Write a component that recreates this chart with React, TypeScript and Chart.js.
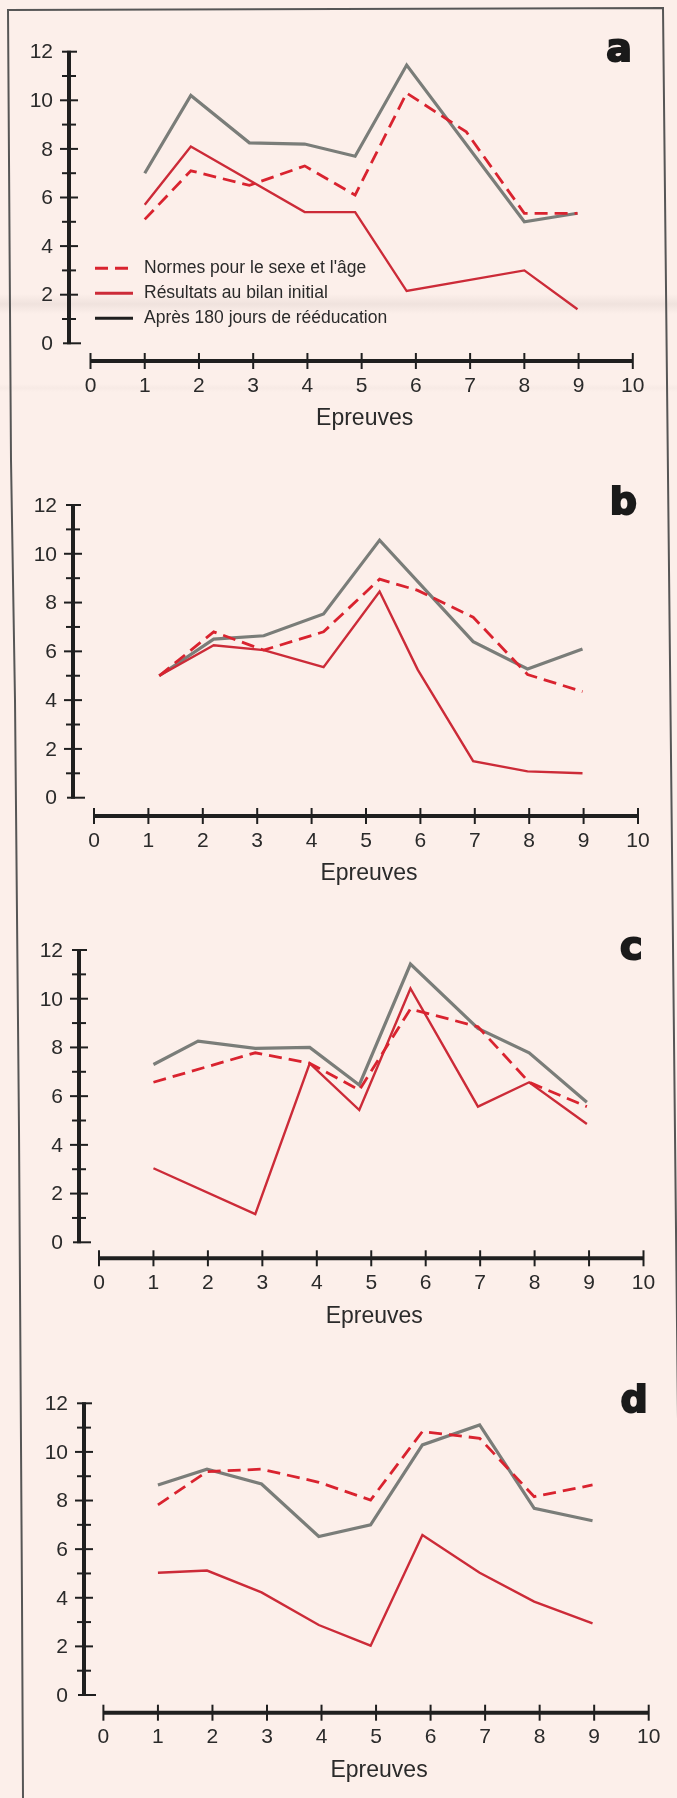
import React, { useEffect, useRef } from "react";
import { Chart, registerables } from "chart.js";

Chart.register(...registerables);

// ---------- data ----------
const xTickLabels = [0, 1, 2, 3, 4, 5, 6, 7, 8, 9, 10];
const yTickLabels = [0, 2, 4, 6, 8, 10, 12];
const legendLabels = [
  "Normes pour le sexe et l'âge",
  "Résultats au bilan initial",
  "Après 180 jours de rééducation",
];
const axisTitle = "Epreuves";
const panelLetters = ["a", "b", "c", "d"];

const aX = [1, 1.85, 2.93, 3.95, 4.88, 5.83, 6.93, 8.0, 8.98];
const aNormes = [5.1, 7.1, 6.5, 7.3, 6.1, 10.3, 8.7, 5.35, 5.35];
const aInitial = [5.7, 8.1, null, 5.4, 5.4, 2.15, null, 3.0, 1.4];
const aApres = [7.0, 10.2, 8.25, 8.2, 7.7, 11.45, null, 5.0, 5.35];

const bX = [1.2, 2.2, 3.12, 4.22, 5.25, 5.95, 6.97, 7.97, 8.98];
const bNormes = [5.0, 6.8, 6.05, 6.8, 8.96, 8.5, 7.4, 5.05, 4.35];
const bInitial = [5.0, 6.25, 6.05, 5.35, 8.45, 5.25, 1.5, 1.08, 1.0];
const bApres = [5.0, 6.5, 6.64, 7.53, 10.56, null, 6.4, 5.28, 6.1];

const cX = [1, 1.82, 2.87, 3.87, 4.78, 5.72, 6.96, 7.9, 8.96];
const cNormes = [6.57, null, 7.78, 7.35, 6.25, 9.58, 8.85, 6.57, 5.57];
const cInitial = [3.04, null, 1.16, 7.35, 5.43, 10.42, 5.57, 6.57, 4.86];
const cApres = [7.3, 8.26, 7.96, 8.0, 6.46, 11.42, 8.78, 7.78, 5.75];

const dX = [1, 1.9, 2.9, 3.95, 4.9, 5.85, 6.9, 7.9, 8.97];
const dNormes = [7.82, 9.19, 9.29, 8.75, 8.02, 10.84, 10.56, 8.16, 8.64];
const dInitial = [5.03, 5.12, 4.22, 2.88, 2.03, 6.58, 5.03, 3.84, 2.95];
const dApres = [8.64, 9.29, 8.68, 6.52, 7.0, 10.29, 11.11, 7.68, 7.17];

// ---------- layout (page pixels) ----------
const PAGE_W = 677;
const PAGE_H = 1798;
const geoms = [
  { top: 0, height: 460, axisX: 69, x0: 90.5, x10: 632.8, y12: 51.7, y0: 343.3, xAxisY: 361 },
  { top: 460, height: 450, axisX: 73, x0: 94, x10: 638, y12: 505, y0: 797.7, xAxisY: 816 },
  { top: 910, height: 440, axisX: 79, x0: 99, x10: 643.5, y12: 950, y0: 1242.3, xAxisY: 1258.3 },
  { top: 1350, height: 448, axisX: 84, x0: 103.4, x10: 648.7, y12: 1403.3, y0: 1695, xAxisY: 1712.7 },
];

const panelsData = [
  { x: aX, normes: aNormes, initial: aInitial, apres: aApres },
  { x: bX, normes: bNormes, initial: bInitial, apres: bApres },
  { x: cX, normes: cNormes, initial: cInitial, apres: cApres },
  { x: dX, normes: dNormes, initial: dInitial, apres: dApres },
];

const INK = "#1f1f1f";
const TEXT = "#2a2a2a";
const RED_DASH = "#d9232f";
const RED = "#cc2b38";
const GRAY = "#7a7d79";
const FONT = "'Liberation Sans', Arial, Helvetica, sans-serif";

function toPoints(xs: number[], ys: (number | null)[]) {
  const pts: { x: number; y: number }[] = [];
  xs.forEach((xv, i) => {
    const yv = ys[i];
    if (yv !== null && yv !== undefined) pts.push({ x: xv, y: yv });
  });
  return pts;
}

const axesPlugin = {
  id: "customAxes",
  beforeDatasetsDraw(chart: any, _args: any, opts: any) {
    const ctx = chart.ctx as CanvasRenderingContext2D;
    const xs = chart.scales.x;
    const ys = chart.scales.y;
    const ax = xs.getPixelForValue(0) - opts.yAxisGap;
    const yTop = ys.getPixelForValue(12);
    const yBot = ys.getPixelForValue(0);
    ctx.save();
    ctx.strokeStyle = INK;
    ctx.lineCap = "butt";

    // vertical axis
    ctx.lineWidth = 4;
    ctx.beginPath();
    ctx.moveTo(ax, yTop - 1);
    ctx.lineTo(ax, yBot + 1);
    ctx.stroke();
    ctx.lineWidth = 2;
    for (let v = 0; v <= 12; v++) {
      const py = ys.getPixelForValue(v);
      let l = 7;
      let r = 7;
      if (v % 2 === 0) {
        l = 9;
        r = 9;
      }
      if (v === 12) {
        l = 7;
        r = 8;
      }
      if (v === 0) {
        l = 6;
        r = 12;
      }
      ctx.beginPath();
      ctx.moveTo(ax - l, py);
      ctx.lineTo(ax + r, py);
      ctx.stroke();
    }
    ctx.fillStyle = TEXT;
    ctx.font = `21px ${FONT}`;
    ctx.textAlign = "right";
    ctx.textBaseline = "middle";
    yTickLabels.forEach((v) => ctx.fillText(String(v), ax - 16, ys.getPixelForValue(v) + 1));

    // horizontal axis (detached below)
    const xy = yBot + opts.xAxisGap;
    const xl = xs.getPixelForValue(0);
    const xr = xs.getPixelForValue(10);
    ctx.lineWidth = 4;
    ctx.beginPath();
    ctx.moveTo(xl, xy);
    ctx.lineTo(xr, xy);
    ctx.stroke();
    ctx.lineWidth = 2;
    xTickLabels.forEach((v) => {
      const px = xs.getPixelForValue(v);
      ctx.beginPath();
      ctx.moveTo(px, xy - 8);
      ctx.lineTo(px, xy + 8);
      ctx.stroke();
    });
    ctx.textAlign = "center";
    xTickLabels.forEach((v) => ctx.fillText(String(v), xs.getPixelForValue(v), xy + 25));
    ctx.font = `23px ${FONT}`;
    ctx.fillText(axisTitle, (xl + xr) / 2 + 3, xy + 58);

    // panel letter
    ctx.font = `bold 38px 'DejaVu Sans', sans-serif`;
    ctx.textAlign = "right";
    ctx.textBaseline = "alphabetic";
    ctx.fillStyle = "#1a1a1a";
    ctx.strokeStyle = "#1a1a1a";
    ctx.lineWidth = 2;
    ctx.strokeText(opts.letter, xr - 1, yTop + 9);
    ctx.fillText(opts.letter, xr - 1, yTop + 9);

    // legend
    if (opts.legend) {
      const lx = xl + 4.5;
      const colors = [RED_DASH, RED, INK];
      const dashes = [[13, 7], [], []];
      legendLabels.forEach((lab, i) => {
        const ly = yBot - 75 + i * 25;
        ctx.strokeStyle = colors[i];
        ctx.lineWidth = 3;
        ctx.setLineDash(dashes[i]);
        ctx.beginPath();
        ctx.moveTo(lx, ly);
        ctx.lineTo(lx + 38, ly);
        ctx.stroke();
        ctx.setLineDash([]);
        ctx.fillStyle = TEXT;
        ctx.font = `17.5px ${FONT}`;
        ctx.textAlign = "left";
        ctx.textBaseline = "middle";
        ctx.fillText(lab, lx + 49, ly);
      });
    }
    ctx.restore();
  },
};

function Panel({ index }: { index: number }) {
  const ref = useRef<HTMLCanvasElement | null>(null);
  const g = geoms[index];
  const d = panelsData[index];
  useEffect(() => {
    if (!ref.current) return;
    const chart = new Chart(ref.current, {
      type: "line",
      data: {
        datasets: [
          {
            label: legendLabels[0],
            data: toPoints(d.x, d.normes),
            borderColor: RED_DASH,
            borderWidth: 2.8,
            borderDash: [13, 7],
            pointRadius: 0,
            tension: 0,
            fill: false,
          },
          {
            label: legendLabels[1],
            data: toPoints(d.x, d.initial),
            borderColor: RED,
            borderWidth: 2.4,
            pointRadius: 0,
            tension: 0,
            fill: false,
          },
          {
            label: legendLabels[2],
            data: toPoints(d.x, d.apres),
            borderColor: GRAY,
            borderWidth: 3.2,
            pointRadius: 0,
            tension: 0,
            fill: false,
          },
        ],
      } as any,
      options: {
        animation: false,
        responsive: false,
        maintainAspectRatio: false,
        devicePixelRatio: 1,
        layout: {
          padding: {
            left: g.x0,
            right: PAGE_W - g.x10,
            top: g.y12 - g.top,
            bottom: g.top + g.height - g.y0,
          },
        },
        scales: {
          x: { type: "linear", min: 0, max: 10, display: false },
          y: { type: "linear", min: 0, max: 12, display: false },
        },
        plugins: {
          legend: { display: false },
          tooltip: { enabled: false },
          customAxes: {
            yAxisGap: g.x0 - g.axisX,
            xAxisGap: g.xAxisY - g.y0,
            letter: panelLetters[index],
            legend: index === 0,
          },
        } as any,
      } as any,
      plugins: [axesPlugin as any],
    });
    return () => chart.destroy();
  }, [index]);
  return (
    <canvas
      ref={ref}
      width={PAGE_W}
      height={g.height}
      style={{ position: "absolute", left: 0, top: g.top, width: PAGE_W, height: g.height, display: "block" }}
    />
  );
}

export default function App() {
  useEffect(() => {
    document.body.style.margin = "0";
  }, []);
  return (
    <div
      style={{
        position: "absolute",
        left: 0,
        top: 0,
        width: PAGE_W,
        height: PAGE_H,
        overflow: "hidden",
        background: "#fcefea",
      }}
    >
      <svg width={PAGE_W} height={PAGE_H} style={{ position: "absolute", left: 0, top: 0 }}>
        <defs>
          <linearGradient id="band" x1="0" y1="0" x2="0" y2="1">
            <stop offset="0" stopColor="#c4b6b1" stopOpacity="0" />
            <stop offset="0.5" stopColor="#c4b6b1" stopOpacity="0.22" />
            <stop offset="1" stopColor="#c4b6b1" stopOpacity="0" />
          </linearGradient>
        </defs>
        <rect x="0" y="294" width={PAGE_W} height="20" fill="url(#band)" />
        <rect x="0" y="384" width={PAGE_W} height="8" fill="url(#band)" opacity="0.4" />
        <polyline
          points="11,460 8,10 663,8 672,850 682,1798"
          fill="none"
          stroke="#565656"
          strokeWidth="2"
        />
        <polyline
          points="11,460 15,700 19,1130 22,1600 23,1798"
          fill="none"
          stroke="#565656"
          strokeWidth="2"
        />
      </svg>
      {geoms.map((_, i) => (
        <Panel key={i} index={i} />
      ))}
    </div>
  );
}
